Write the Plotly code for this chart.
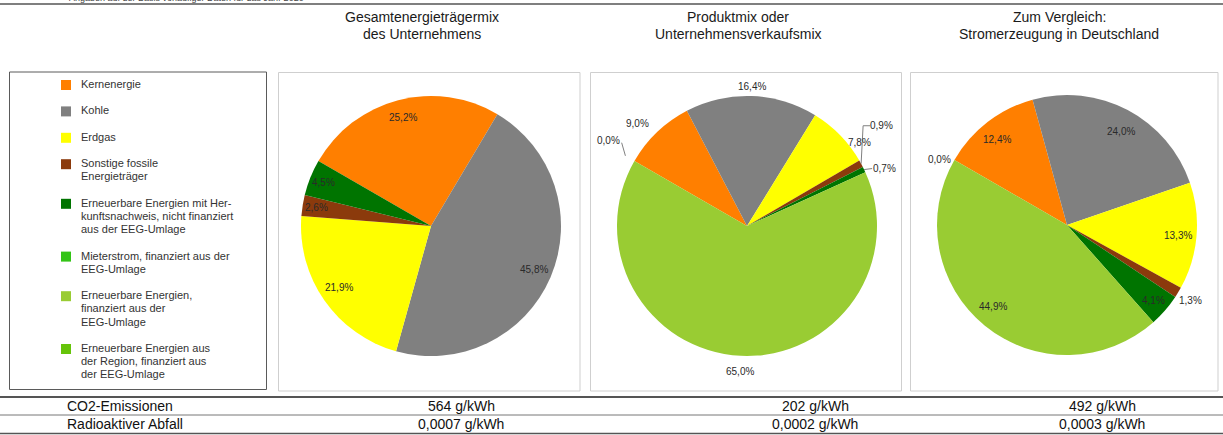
import math
import plotly.graph_objects as go

# ------------------------------------------------------------------ data
categories = [
    "Kernenergie",
    "Kohle",
    "Erdgas",
    "Sonstige fossile Energieträger",
    "Erneuerbare Energien mit Herkunftsnachweis, nicht finanziert aus der EEG-Umlage",
    "Mieterstrom, finanziert aus der EEG-Umlage",
    "Erneuerbare Energien, finanziert aus der EEG-Umlage",
    "Erneuerbare Energien aus der Region, finanziert aus der EEG-Umlage",
]
legend_text = [
    ["Kernenergie"],
    ["Kohle"],
    ["Erdgas"],
    ["Sonstige fossile", "Energieträger"],
    ["Erneuerbare Energien mit Her-", "kunftsnachweis, nicht finanziert", "aus der EEG-Umlage"],
    ["Mieterstrom, finanziert aus der", "EEG-Umlage"],
    ["Erneuerbare Energien,", "finanziert aus der", "EEG-Umlage"],
    ["Erneuerbare Energien aus", "der Region, finanziert aus", "der EEG-Umlage"],
]
# shares in percent (None = not reported / no label)
mix_unternehmen = [25.2, 45.8, 21.9, 2.6, 4.5, None, None, None]
mix_produkt = [9.0, 16.4, 7.8, 0.9, 0.7, None, 65.0, 0.0]
mix_deutschland = [12.4, 24.0, 13.3, 1.3, 4.1, None, 44.9, 0.0]

panel_titles = [
    ["Gesamtenergieträgermix", "des Unternehmens"],
    ["Produktmix oder", "Unternehmensverkaufsmix"],
    ["Zum Vergleich:", "Stromerzeugung in Deutschland"],
]
row_labels = ["CO2-Emissionen", "Radioaktiver Abfall"]
co2_values = ["564 g/kWh", "202 g/kWh", "492 g/kWh"]
waste_values = ["0,0007 g/kWh", "0,0002 g/kWh", "0,0003 g/kWh"]
note_text = "Angaben auf der Basis vorläufiger Daten für das Jahr 2020"

# ------------------------------------------------------------------ style
colors = ["#FF7F00", "#808080", "#FFFF00", "#8B3A0C", "#007400",
          "#33C416", "#99CC33", "#66C40A"]
FONT = "Liberation Sans, Arial, sans-serif"
W, H = 1223, 435
ROTATION = 300

pie_geom = [(431, 226, 130), (747, 226, 130), (1067, 225, 130)]
title_x = [422, 738, 1059]
value_x = [461, 815, 1102]
panel_boxes = [(278.5, 72.5, 580, 391), (590.5, 72.5, 901.5, 391), (910.5, 72.5, 1218, 391)]

# per pie: slice index -> (radius factor, dx, dy, leader kind)
label_styles = [
    {0: (0.86, 0, 0, None), 1: (0.86, 0, 0, None), 2: (0.86, 0, -3, None),
     3: (0.89, 0, 0, None), 4: (0.89, 0, 0, None)},
    {0: (1.15, -6, 5, None), 1: (1.07, 0, 0, None), 2: (1.08, 12, 15, None),
     3: (1.0, 20, -38, "elbow"), 4: (1.0, 20, -1, "flat"),
     6: (1.12, 0, 0, None), 7: (1.22, -1, -6, "diag")},
    {0: (0.84, -3, 1, None), 1: (0.84, 3, 3, None), 2: (0.86, 0, 1, None),
     3: (1.1, 1, 1, None), 4: (0.88, 0, 0, None), 6: (0.85, -4, -4, None),
     7: (1.1, -4, 6, None)},
]


def px(x):
    return x / W


def py(y):
    return 1 - y / H


def polar(cx, cy, r, ang):
    a = math.radians(ang)
    return cx + r * math.sin(a), cy - r * math.cos(a)


def fmt(v):
    return f"{v:.1f}".replace(".", ",") + "%"


fig = go.Figure()
annotations = []
shapes = []

series = [mix_unternehmen, mix_produkt, mix_deutschland]
for k, vals in enumerate(series):
    cx, cy, r = pie_geom[k]
    plot_vals = [v if v is not None else 0 for v in vals]
    fig.add_trace(go.Pie(
        values=plot_vals, labels=categories, sort=False, direction="clockwise",
        rotation=ROTATION, textinfo="none", hoverinfo="label+percent",
        marker=dict(colors=colors, line=dict(width=0)),
        showlegend=False,
        domain=dict(x=[px(cx - r), px(cx + r)], y=[py(cy + r), py(cy - r)]),
    ))
    total = sum(plot_vals)
    cum = 0.0
    for i, v in enumerate(plot_vals):
        mid = ROTATION + 360 * (cum + v / 2) / total
        cum += v
        if vals[i] is None or i not in label_styles[k]:
            continue
        f, dx, dy, leader = label_styles[k][i]
        bx, by = polar(cx, cy, r * f, mid)
        lx, ly = bx + dx, by + dy
        annotations.append(dict(
            x=px(lx), y=py(ly), xref="paper", yref="paper", text=fmt(vals[i]),
            showarrow=False, xanchor="center", yanchor="middle",
            font=dict(family=FONT, size=10, color="#2a2a2a")))
        if leader == "elbow":
            ex, ey = polar(cx, cy, r, mid)
            path = (f"M {px(ex)} {py(ey)} L {px(ex + 2)} {py(ly)} "
                    f"L {px(lx - 11)} {py(ly)}")
        elif leader == "flat":
            ex, ey = polar(cx, cy, r, mid)
            path = f"M {px(ex)} {py(ey)} L {px(lx - 12)} {py(ly)}"
        elif leader == "diag":
            ex, ey = polar(cx, cy, r * 1.08, mid)
            path = f"M {px(ex)} {py(ey)} L {px(lx + 13)} {py(ly + 2)}"
        else:
            path = None
        if path:
            shapes.append(dict(type="path", path=path, xref="paper", yref="paper",
                               line=dict(color="#808080", width=1)))

# panel titles
for k, lines in enumerate(panel_titles):
    for j, t in enumerate(lines):
        annotations.append(dict(
            x=px(title_x[k]), y=py(17 + 17 * j), xref="paper", yref="paper",
            text=t, showarrow=False, xanchor="center", yanchor="middle",
            font=dict(family=FONT, size=14, color="#1a1a1a")))

# panel boxes
for (x0, y0, x1, y1) in panel_boxes:
    shapes.append(dict(type="rect", xref="paper", yref="paper",
                       x0=px(x0), x1=px(x1), y0=py(y1), y1=py(y0),
                       line=dict(color="#cfcfcf", width=1)))

# legend box
shapes.append(dict(type="rect", xref="paper", yref="paper",
                   x0=px(9.5), x1=px(266.5), y0=py(389.5), y1=py(72),
                   line=dict(color="#5a5a5a", width=1)))
LINE_H = 13.2
y_line = 84
for i, lines in enumerate(legend_text):
    shapes.append(dict(type="rect", xref="paper", yref="paper",
                       x0=px(61), x1=px(71), y0=py(y_line + 6), y1=py(y_line - 4),
                       fillcolor=colors[i], line=dict(width=0)))
    for j, t in enumerate(lines):
        annotations.append(dict(
            x=px(79), y=py(y_line + LINE_H * j), xref="paper", yref="paper",
            text=t, showarrow=False, xanchor="left", yanchor="middle",
            font=dict(family=FONT, size=11, color="#333333")))
    y_line += LINE_H * (len(lines) + 1)

# top line and cut-off note (the reference shows it clipped at the top edge)
shapes.append(dict(type="line", xref="paper", yref="paper", x0=0, x1=1,
                   y0=py(4), y1=py(4), line=dict(color="#555555", width=1.5)))
annotations.append(dict(x=px(67), y=py(-2), xref="paper", yref="paper",
                        text=note_text, showarrow=False, xanchor="left",
                        yanchor="middle",
                        font=dict(family=FONT, size=9, color="#444444")))

# table
for yy, w, c in [(397, 1.8, "#555555"), (415, 1, "#777777"), (433.5, 1.5, "#555555")]:
    shapes.append(dict(type="line", xref="paper", yref="paper", x0=0, x1=1,
                       y0=py(yy), y1=py(yy), line=dict(color=c, width=w)))
for r_i, (lab, vals) in enumerate(zip(row_labels, [co2_values, waste_values])):
    yy = 406 + 18 * r_i
    annotations.append(dict(x=px(65), y=py(yy), xref="paper", yref="paper",
                            text=lab, showarrow=False, xanchor="left",
                            yanchor="middle",
                            font=dict(family=FONT, size=14, color="#111111")))
    for k, v in enumerate(vals):
        annotations.append(dict(x=px(value_x[k]), y=py(yy), xref="paper",
                                yref="paper", text=v, showarrow=False,
                                xanchor="center", yanchor="middle",
                                font=dict(family=FONT, size=14, color="#111111")))

fig.update_layout(
    width=W, height=H, margin=dict(l=0, r=0, t=0, b=0),
    paper_bgcolor="white", plot_bgcolor="white",
    annotations=annotations, shapes=shapes, showlegend=False,
    font=dict(family=FONT),
)

fig.write_html("out.html", config={"displayModeBar": False},
               post_script="document.body.style.margin='0';")
